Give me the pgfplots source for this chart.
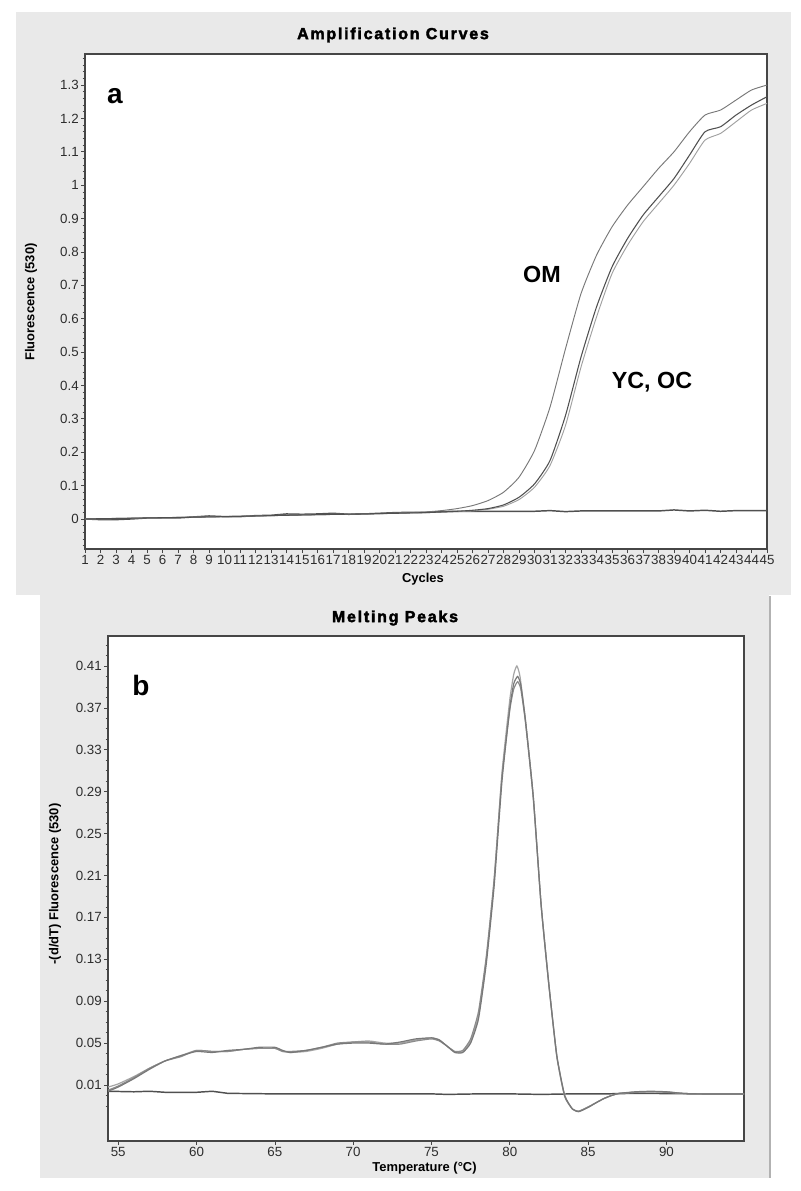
\documentclass[border=0pt]{standalone}
\usepackage{fontspec}
\setmainfont{Liberation Sans}
\newfontfamily\titlefont[LetterSpace=11,BoldFeatures={FakeBold=2.5}]{Liberation Sans}
\usepackage{pgfplots}
\pgfplotsset{compat=1.18}
\usepackage{pgfplotstable}
\definecolor{panelgray}{RGB}{233,233,233}
\definecolor{axcol}{RGB}{70,70,70}
\definecolor{txtcol}{RGB}{45,45,45}
\definecolor{lineDark}{RGB}{80,80,80}
\definecolor{lineMid}{RGB}{120,120,120}
\definecolor{lineLight}{RGB}{160,160,160}
\definecolor{meltA}{RGB}{165,165,165}
\definecolor{meltB}{RGB}{120,120,120}
\definecolor{meltC}{RGB}{140,140,140}

\pgfplotstableread{
c v
1 0.000
2 -0.002
3 -0.002
4 0.000
5 0.003
6 0.003
7 0.003
8 0.006
9 0.009
10 0.007
11 0.007
12 0.010
13 0.011
14 0.015
15 0.014
16 0.015
17 0.017
18 0.014
19 0.015
20 0.017
21 0.019
22 0.020
23 0.020
24 0.022
25 0.023
26 0.023
27 0.023
28 0.023
29 0.023
30 0.023
31 0.025
32 0.022
33 0.024
34 0.024
35 0.024
36 0.024
37 0.024
38 0.024
39 0.027
40 0.024
41 0.026
42 0.023
43 0.025
44 0.025
45 0.025
}\ampBase

\pgfplotstableread{
c v
1 0.000
5 0.003
10 0.007
15 0.012
20 0.016
22 0.019
23 0.021
24 0.025
25 0.031
26 0.040
27 0.055
28 0.080
29 0.125
30 0.205
31 0.335
32 0.510
33 0.675
34 0.790
35 0.875
36 0.940
37 0.995
38 1.050
39 1.100
40 1.160
41 1.210
42 1.225
43 1.255
44 1.285
45 1.300
}\ampOM

\pgfplotstableread{
c v
1 0.000
5 0.003
10 0.007
15 0.012
20 0.016
22 0.018
23 0.019
24 0.021
25 0.023
26 0.026
27 0.031
28 0.042
29 0.065
30 0.105
31 0.175
32 0.310
33 0.485
34 0.635
35 0.755
36 0.840
37 0.910
38 0.965
39 1.020
40 1.090
41 1.160
42 1.175
43 1.210
44 1.240
45 1.265
}\ampYC

\pgfplotstableread{
c v
1 0.000
5 0.003
10 0.007
15 0.012
20 0.016
22 0.018
23 0.019
24 0.020
25 0.022
26 0.024
27 0.029
28 0.038
29 0.058
30 0.095
31 0.160
32 0.280
33 0.455
34 0.605
35 0.735
36 0.820
37 0.890
38 0.945
39 1.000
40 1.065
41 1.135
42 1.155
43 1.190
44 1.225
45 1.245
}\ampOC

\pgfplotstableread{
t v
54.35 0.004
56 0.0035
57 0.004
58 0.003
60 0.003
61 0.004
62 0.002
65 0.0015
70 0.0015
75 0.0015
76 0.001
78 0.0015
80 0.0015
82 0.001
84 0.0015
86 0.0015
88 0.002
90 0.0018
92 0.0015
94.95 0.0015
}\meltBase

\pgfplotstableread{
t v
54.35 0.008
55 0.011
56 0.018
57 0.026
58 0.033
59 0.038
60 0.043
61 0.042
62 0.042
63 0.044
64 0.045
65 0.045
65.5 0.042
66 0.041
67 0.042
68 0.045
69 0.049
70 0.051
71 0.052
72 0.050
73 0.050
74 0.053
75 0.055
75.5 0.053
76 0.047
76.5 0.041
77 0.042
77.5 0.052
78 0.076
78.5 0.130
79 0.205
79.5 0.308
80 0.378
80.25 0.402
80.45 0.410
80.65 0.400
81 0.358
81.5 0.285
82 0.182
82.5 0.105
83 0.038
83.5 0.000
84 -0.013
84.4 -0.015
85 -0.011
85.5 -0.007
86 -0.003
86.5 0.000
87 0.002
88 0.003
89 0.0036
90 0.0035
91 0.002
92 0.0015
94.95 0.0014
}\meltA

\pgfplotstableread{
t v
54.35 0.004
55 0.008
56 0.016
57 0.025
58 0.033
59 0.038
60 0.042
61 0.041
62 0.043
63 0.044
64 0.046
65 0.046
65.5 0.043
66 0.041
67 0.043
68 0.046
69 0.049
70 0.050
71 0.050
72 0.049
73 0.051
74 0.054
75 0.055
75.5 0.053
76 0.047
76.5 0.041
77 0.041
77.5 0.050
78 0.073
78.5 0.126
79 0.200
79.5 0.300
80 0.370
80.25 0.393
80.5 0.400
80.7 0.392
81 0.358
81.5 0.285
82 0.182
82.5 0.105
83 0.038
83.5 0.000
84 -0.013
84.4 -0.0155
85 -0.0115
85.5 -0.007
86 -0.003
86.5 0.000
87 0.002
88 0.0035
89 0.004
90 0.0035
91 0.002
92 0.0015
94.95 0.0014
}\meltB

\pgfplotstableread{
t v
54.35 0.005
55 0.009
56 0.017
57 0.026
58 0.033
59 0.037
60 0.043
61 0.042
62 0.042
63 0.044
64 0.045
65 0.045
65.5 0.042
66 0.042
67 0.043
68 0.046
69 0.050
70 0.051
71 0.051
72 0.049
73 0.049
74 0.052
75 0.054
75.5 0.052
76 0.047
76.5 0.042
77 0.043
77.5 0.054
78 0.080
78.5 0.133
79 0.207
79.5 0.305
80 0.368
80.25 0.388
80.5 0.395
80.7 0.388
81 0.356
81.5 0.283
82 0.181
82.5 0.104
83 0.037
83.5 -0.001
84 -0.013
84.4 -0.015
85 -0.011
85.5 -0.007
86 -0.003
86.5 0.000
87 0.002
88 0.003
89 0.0035
90 0.003
91 0.002
92 0.0015
94.95 0.0014
}\meltC

\pgfplotsset{
  rt/.style={
    scale only axis,
    anchor=north west,
    axis background/.style={fill=white},
    axis line style={axcol, line width=0.9pt},
    tick style={axcol, line width=0.5pt},
    tick align=outside,
    xtick pos=left, ytick pos=left,
    major tick length=3pt,
    minor tick length=1.8pt,
    tick label style={font=\fontsize{10}{12}\selectfont, text=txtcol},
    /pgf/number format/assume math mode=true,
    xticklabel style={inner sep=1.5pt},
    yticklabel style={inner sep=1.5pt},
  }
}

\begin{document}
\begin{tikzpicture}
% backgrounds
\fill[white] (0pt,0pt) rectangle (600pt,-893.25pt);
\fill[panelgray] (12pt,-9pt) rectangle (593.25pt,-446.25pt);
\fill[panelgray] (30pt,-446.25pt) rectangle (576.75pt,-883.5pt);
\draw[black!30, line width=0.8pt] (577.5pt,-447pt) -- (577.5pt,-883.5pt);

% ---------- panel a ----------
\begin{axis}[rt,
  at={(63.75pt,-40.5pt)},
  width=511.5pt, height=371.25pt,
  xmin=1, xmax=45, ymin=-0.09, ymax=1.393,
  xtick={1,...,45},
  ytick={0,0.1,0.2,0.3,0.4,0.5,0.6,0.7,0.8,0.9,1,1.1,1.2,1.3},
  yticklabels={0,0.1,0.2,0.3,0.4,0.5,0.6,0.7,0.8,0.9,1,1.1,1.2,1.3},
  minor ytick={-0.08,-0.06,...,1.38},
]
\addplot[lineDark, line width=1.1pt] table[x=c,y=v] {\ampBase};
\addplot[lineLight, line width=0.7pt, smooth, tension=0.35] table[x=c,y=v] {\ampOC};
\addplot[lineMid, line width=0.7pt, smooth, tension=0.35] table[x=c,y=v] {\ampOM};
\addplot[lineDark, line width=0.8pt, smooth, tension=0.35] table[x=c,y=v] {\ampYC};
\end{axis}

% ---------- panel b ----------
\begin{axis}[rt,
  at={(81pt,-477pt)},
  width=477pt, height=378.75pt,
  xmin=54.35, xmax=94.95, ymin=-0.0435, ymax=0.4386,
  xtick={55,60,65,70,75,80,85,90},
  ytick={0.01,0.05,0.09,0.13,0.17,0.21,0.25,0.29,0.33,0.37,0.41},
  yticklabels={0.01,0.05,0.09,0.13,0.17,0.21,0.25,0.29,0.33,0.37,0.41},
  minor ytick={-0.01,0,...,0.43},
]
\addplot[lineDark, line width=1.1pt] table[x=t,y=v] {\meltBase};
\addplot[meltA, line width=0.9pt, smooth, tension=0.3] table[x=t,y=v] {\meltA};
\addplot[meltC, line width=0.9pt, smooth, tension=0.3] table[x=t,y=v] {\meltC};
\addplot[meltB, line width=0.9pt, smooth, tension=0.3] table[x=t,y=v] {\meltB};
\end{axis}

% titles and labels
\node[font=\titlefont\bfseries\fontsize{12}{14}\selectfont, text=black] at (294.75pt,-26.25pt) {Amplification Curves};
\node[font=\titlefont\bfseries\fontsize{12}{14}\selectfont, text=black] at (296.25pt,-463.5pt) {Melting Peaks};
\node[font=\bfseries\fontsize{21}{24}\selectfont] at (86.25pt,-72pt) {a};
\node[font=\bfseries\fontsize{21}{24}\selectfont] at (105.75pt,-513.75pt) {b};
\node[font=\bfseries\fontsize{17.5}{20}\selectfont] at (406.5pt,-205.5pt) {OM};
\node[font=\bfseries\fontsize{17.5}{20}\selectfont] at (489pt,-286.5pt) {YC, OC};
\node[rotate=90, font=\bfseries\fontsize{9.7}{11}\selectfont] at (23.25pt,-226.5pt) {Fluorescence (530)};
\node[rotate=90, font=\bfseries\fontsize{9.7}{11}\selectfont] at (41.25pt,-663pt) {-(d/dT) Fluorescence (530)};
\node[font=\bfseries\fontsize{9.7}{11}\selectfont] at (317.25pt,-434.25pt) {Cycles};
\node[font=\bfseries\fontsize{9.7}{11}\selectfont] at (318.4pt,-876pt) {Temperature (°C)};
\end{tikzpicture}
\end{document}
